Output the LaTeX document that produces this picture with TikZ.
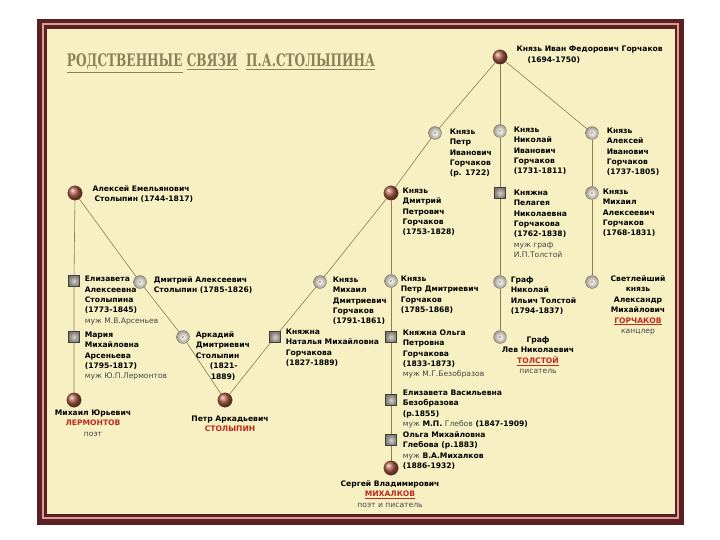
\documentclass[tikz,border=0pt]{standalone}
\usepackage{fontspec}
\newfontfamily\lblfont{DejaVu Sans}
\newfontfamily\titlefont{DejaVu Serif}[FakeStretch=0.62]
\usetikzlibrary{positioning,shadings}

\definecolor{cream}{RGB}{246,240,194}
\definecolor{framebrown}{RGB}{92,32,34}
\definecolor{framepink}{RGB}{214,160,150}
\definecolor{linecol}{RGB}{140,125,82}
\definecolor{ballbrown}{RGB}{172,92,70}
\definecolor{discgray}{RGB}{160,152,138}
\definecolor{sqgray}{RGB}{128,122,114}
\definecolor{famred}{RGB}{190,42,30}
\definecolor{notegray}{RGB}{70,70,70}
\definecolor{titlecol}{RGB}{140,128,90}

\newcommand{\lite}[1]{{\mdseries\color{notegray}#1}}
\newcommand{\famname}[1]{{\color{famred}#1}}

\begin{document}
\begin{tikzpicture}[x=1pt, y=-1pt,
    ball/.style={circle, inner sep=0pt, minimum size=14.5pt, ball color=ballbrown,
      draw=ballbrown!60!black, very thin},
    disc/.style={circle, inner sep=0pt, minimum size=13pt, inner color=white,
      outer color=discgray, draw=discgray!60!black, very thin,
      path picture={\fill[black!55] (path picture bounding box.center) circle (0.8pt);}},
    sqr/.style={rectangle, inner sep=0pt, minimum size=11pt, inner color=sqgray!35,
      outer color=sqgray, draw=sqgray!50!black, very thin},
    lbl/.style={font=\lblfont\bfseries\fontsize{7.6}{10.4}\selectfont, align=left,
      inner sep=0pt, anchor=north west, yshift=7.5pt,
      execute at begin node={\rule{0pt}{7.5pt}}},
    clbl/.style={lbl, align=center, anchor=north},
    link/.style={draw=linecol, line width=0.6pt}
  ]
  \useasboundingbox (0,0) rectangle (720,540);

  % frame
  \fill[framebrown] (37,19) rectangle (684,525);
  \draw[framepink, line width=1.2pt] (43,24) rectangle (678,518);
  \fill[cream] (46,28) rectangle (675,514);
  \draw[framebrown, line width=0.5pt] (46,28) rectangle (675,514);

  % title
  \node[inner sep=0pt, text=titlecol] (title) at (221,63.5)
    {\resizebox*{308pt}{19pt}{\titlefont\bfseries
      \underline{РОДСТВЕННЫЕ}\ \underline{СВЯЗИ}\ \ \underline{П.А.СТОЛЫПИНА}}};

  % Gorchakov line
  \node[ball] (ivan) at (500,57) {};
  \node[disc] (petrI) at (435,133) {};
  \node[disc] (nikI) at (500,131) {};
  \node[disc] (alekI) at (592,133) {};
  \node[ball] (dmitP) at (391,193) {};
  \node[sqr] (pelag) at (500,193) {};
  \node[disc] (mikhA) at (592,193) {};
  \node[disc] (mikhD) at (320,282) {};
  \node[disc] (petrD) at (391,281) {};
  \node[disc] (nikT) at (500,282) {};
  \node[disc] (gorch) at (592,282) {};
  \node[sqr] (natal) at (275,337) {};
  \node[sqr] (olgaP) at (391,337) {};
  \node[disc] (levT) at (500,337) {};
  \node[sqr] (elizV) at (391,400) {};
  \node[sqr] (olgaM) at (391,440) {};
  \node[ball] (mikhal) at (391,468) {};

  % Stolypin line
  \node[ball] (alekE) at (75,193) {};
  \node[sqr] (eliz) at (74,281) {};
  \node[disc] (dmitA) at (140,282) {};
  \node[sqr] (maria) at (74,337) {};
  \node[disc] (arkad) at (183,337) {};
  \node[ball] (lerm) at (74,400) {};
  \node[ball] (stol) at (225,400) {};

  % connections
  \draw[link] (ivan) -- (petrI);
  \draw[link] (ivan) -- (nikI);
  \draw[link] (ivan) -- (alekI);
  \draw[link] (petrI) -- (dmitP) -- (mikhD) -- (natal) -- (stol);
  \draw[link] (nikI) -- (pelag) -- (nikT) -- (levT);
  \draw[link] (alekI) -- (mikhA) -- (gorch);
  \draw[link] (dmitP) -- (petrD) -- (olgaP) -- (elizV) -- (olgaM) -- (mikhal);
  \draw[link] (alekE) -- (eliz) -- (maria) -- (lerm);
  \draw[link] (alekE) -- (dmitA) -- (arkad) -- (stol);

  % labels
  \node[lbl] (ivanL) at ([xshift=9pt,yshift=3.5pt]ivan.east)
    {Князь Иван Федорович Горчаков\\\hspace*{11pt}(1694-1750)};
  \node[lbl] (petrIL) at ([xshift=8pt,yshift=-3pt]petrI.east)
    {Князь\\Петр\\Иванович\\Горчаков\\(р. 1722)};
  \node[lbl] (nikIL) at ([xshift=7pt,yshift=-3pt]nikI.east)
    {Князь\\Николай\\Иванович\\Горчаков\\(1731-1811)};
  \node[lbl] (alekIL) at ([xshift=8pt,yshift=-2pt]alekI.east)
    {Князь\\Алексей\\Иванович\\Горчаков\\(1737-1805)};
  \node[lbl] (dmitPL) at ([xshift=4pt,yshift=-2pt]dmitP.east)
    {Князь\\Дмитрий\\Петрович\\Горчаков\\(1753-1828)};
  \node[lbl] (pelagL) at ([xshift=8pt,yshift=-4pt]pelag.east)
    {Княжна\\Пелагея\\Николаевна\\Горчакова\\(1762-1838)\\\lite{муж граф}\\\lite{И.П.Толстой}};
  \node[lbl] (mikhAL) at ([xshift=4pt,yshift=-3pt]mikhA.east)
    {Князь\\Михаил\\Алексеевич\\Горчаков\\(1768-1831)};
  \node[lbl] (alekEL) at ([xshift=10pt,yshift=0pt]alekE.east)
    {Алексей Емельянович\\\hspace*{2pt}Столыпин (1744-1817)};
  \node[lbl] (elizL) at ([xshift=5pt,yshift=-2.5pt]eliz.east)
    {Елизавета\\Алексеевна\\Столыпина\\(1773-1845)\\\lite{муж М.В.Арсеньев}};
  \node[lbl] (dmitAL) at ([xshift=7pt,yshift=-2pt]dmitA.east)
    {Дмитрий Алексеевич\\Столыпин (1785-1826)};
  \node[lbl] (mariaL) at ([xshift=5pt,yshift=-2pt]maria.east)
    {Мария\\Михайловна\\Арсеньева\\(1795-1817)\\\lite{муж Ю.П.Лермонтов}};
  \node[lbl] (arkadL) at ([xshift=6pt,yshift=-2pt]arkad.east)
    {Аркадий\\Дмитриевич\\Столыпин\\\hspace*{14pt}(1821-\\\hspace*{15pt}1889)};
  \node[lbl] (natalL) at ([xshift=5pt,yshift=1pt]natal.east)
    {Княжна\\Наталья Михайловна\\Горчакова\\(1827-1889)};
  \node[lbl] (mikhDL) at ([xshift=6pt,yshift=-2pt]mikhD.east)
    {Князь\\Михаил\\Дмитриевич\\Горчаков\\(1791-1861)};
  \node[lbl] (petrDL) at ([xshift=3pt,yshift=-2pt]petrD.east)
    {Князь\\Петр Дмитриевич\\Горчаков\\(1785-1868)};
  \node[lbl] (nikTL) at ([xshift=4pt,yshift=-2pt]nikT.east)
    {Граф\\Николай\\Ильич Толстой\\(1794-1837)};
  \node[lbl] (olgaPL) at ([xshift=6pt,yshift=0pt]olgaP.east)
    {Княжна Ольга\\Петровна\\Горчакова\\(1833-1873)\\\lite{муж М.Г.Безобразов}};
  \node[lbl] (elizVL) at ([xshift=6pt,yshift=3pt]elizV.east)
    {Елизавета Васильевна\\Безобразова\\(р.1855)\\\lite{муж} М.П. \lite{Глебов} (1847-1909)};
  \node[lbl] (olgaML) at ([xshift=6pt,yshift=1pt]olgaM.east)
    {Ольга Михайловна\\Глебова (р.1883)\\\lite{муж} В.А.Михалков\\(1886-1932)};

  \node[clbl] (lermL) at ([xshift=19pt,yshift=-17pt]lerm.center)
    {Михаил Юрьевич\\\famname{ЛЕРМОНТОВ}\\\lite{поэт}};
  \node[clbl] (stolL) at ([xshift=5pt,yshift=-23pt]stol.center)
    {Петр Аркадьевич\\\famname{СТОЛЫПИН}};
  \node[clbl] (levTL) at ([xshift=38pt,yshift=-7pt]levT.center)
    {Граф\\Лев Николаевич\\\famname{\underline{ТОЛСТОЙ}}\\\lite{писатель}};
  \node[clbl] (gorchL) at ([xshift=46pt,yshift=-1pt]gorch.center)
    {Светлейший\\князь\\Александр\\Михайлович\\\famname{\underline{ГОРЧАКОВ}}\\\lite{канцлер}};
  \node[clbl] (mikhalL) at ([xshift=-1pt,yshift=-20pt]mikhal.center)
    {Сергей Владимирович\\\famname{\underline{МИХАЛКОВ}}\\\lite{поэт и писатель}};
\end{tikzpicture}
\end{document}
